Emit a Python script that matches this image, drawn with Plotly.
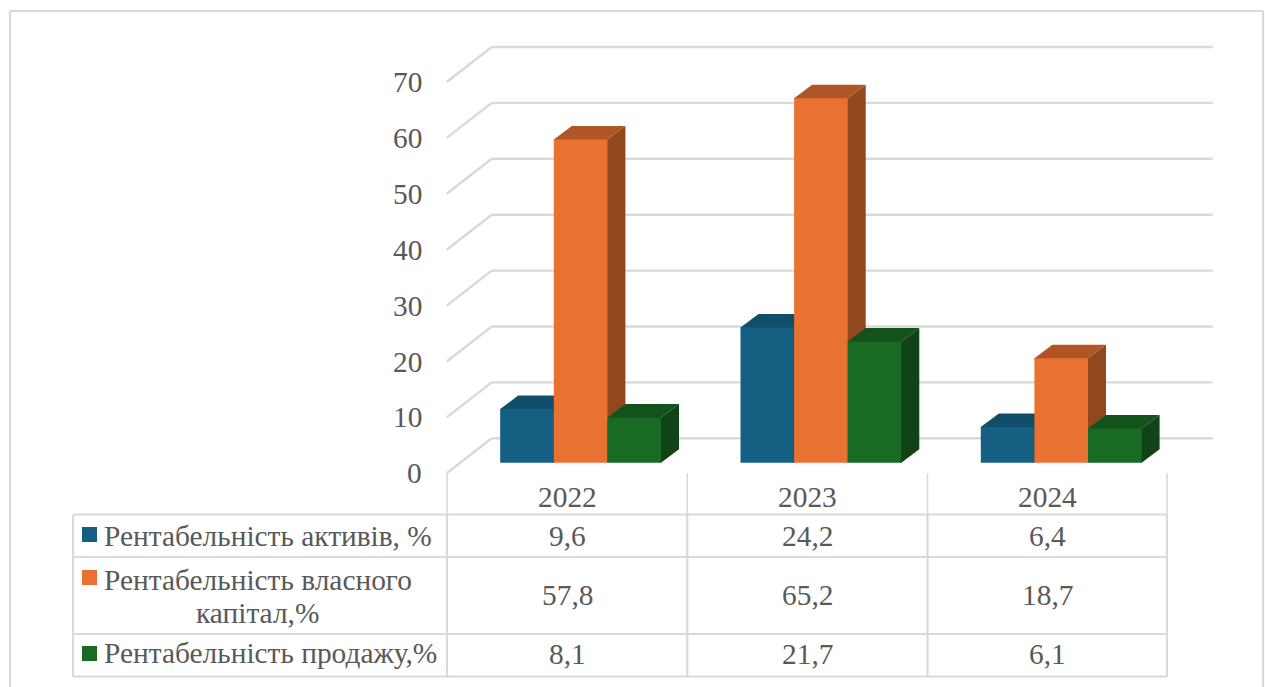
import plotly.graph_objects as go

# Chart data
years = [2022, 2023, 2024]
series_names = ["Рентабельність активів, %", "Рентабельність власного", "Рентабельність продажу,%"]
wrapped_name = "капітал,%"
assets = [9.6, 24.2, 6.4]
equity = [57.8, 65.2, 18.7]
sales = [8.1, 21.7, 6.1]
y_ticks = [0, 10, 20, 30, 40, 50, 60, 70]

# Face colours: front, top, side
blue = ("#156082", "#114E69", "#0E4158")
orange = ("#E97132", "#B05626", "#92481F")
green = ("#196B24", "#14521C", "#104317")
grid = "#D9D9D9"
ink = "#595959"
serif = "Liberation Serif"
TEXT_SIZE = 29.4

W, H = 1265, 687
X_ORIGIN, X_STEP = 580.6, 240.3   # pixel of the first category, pixels per category
Y_ZERO, Y_UNIT = 462.7, 5.59      # pixel of value 0, pixels per unit
BAR_W = 53.6 / X_STEP
DEPTH_X, DEPTH_Y = 18 / X_STEP, 13.5 / Y_UNIT
BACK_X, BACK_Y = 31.3 / X_STEP, 24.4 / Y_UNIT
FRONT_X, FRONT_Y = -13.7 / X_STEP, -10.6 / Y_UNIT
TUCK_X, TUCK_Y = 1 / X_STEP, 1 / Y_UNIT   # depth faces slip under the front face to avoid seams


def px(p):
    return p / W


def py(p):
    return 1 - p / H


def poly(points, colour):
    path = "M" + " L".join(f"{x},{y}" for x, y in points) + " Z"
    return dict(type="path", path=path, xref="x", yref="y", layer="below",
                fillcolor=colour, line=dict(width=0))


def rule(x0, y0, x1, y1, width=2.2):
    return dict(type="line", xref="paper", yref="paper", layer="below",
                x0=px(x0), y0=py(y0), x1=px(x1), y1=py(y1),
                line=dict(color=grid, width=width))


def label(text, x, y, anchor="center"):
    return dict(text=text, xref="paper", yref="paper", x=px(x), y=py(y),
                xanchor=anchor, yanchor="middle", showarrow=False,
                font=dict(family=serif, size=TEXT_SIZE, color=ink))


def decimal(v):
    return f"{v}".replace(".", ",")


fig = go.Figure()
shapes = []
annotations = []

# Walls: diagonal side lines and back gridlines
left = years[0] - 0.5
right = years[-1] + 0.5
for v in y_ticks:
    shapes.append(dict(type="line", xref="x", yref="y", layer="below",
                       x0=left + FRONT_X, y0=v + FRONT_Y, x1=left + BACK_X, y1=v + BACK_Y,
                       line=dict(color=grid, width=2.4)))
    shapes.append(dict(type="line", xref="x", yref="y", layer="below",
                       x0=left + BACK_X, y0=v + BACK_Y, x1=right + BACK_X, y1=v + BACK_Y,
                       line=dict(color=grid, width=2.4)))
    annotations.append(dict(text=str(v), xref="x", yref="y", x=left + FRONT_X, y=v + FRONT_Y,
                            xshift=-23, xanchor="right", yanchor="middle", showarrow=False,
                            font=dict(family=serif, size=TEXT_SIZE, color=ink)))

# Bars: library-drawn front faces, with top and side faces behind them
for i, (values, colours, name) in enumerate(zip((assets, equity, sales), (blue, orange, green), series_names)):
    fig.add_trace(go.Bar(x=years, y=values, name=name, marker=dict(color=colours[0], line=dict(width=0))))
    for year, v in zip(years, values):
        x0 = year + (i - 1.5) * BAR_W
        x1 = x0 + BAR_W
        shapes.append(poly([(x1 - TUCK_X, 0), (x1, 0), (x1 + DEPTH_X, DEPTH_Y), (x1 + DEPTH_X, v + DEPTH_Y),
                            (x1, v), (x1 - TUCK_X, v)], colours[2]))
        shapes.append(poly([(x0, v - TUCK_Y), (x0, v), (x0 + DEPTH_X, v + DEPTH_Y), (x1 + DEPTH_X, v + DEPTH_Y),
                            (x1, v), (x1, v - TUCK_Y)], colours[1]))

# Data table under the chart
COLS = [447, 687.3, 927.5, 1167]
ROWS = [514.5, 557, 634, 676.5]
TABLE_LEFT = 73
for y in ROWS:
    shapes.append(rule(TABLE_LEFT, y, COLS[-1], y))
shapes.append(rule(TABLE_LEFT, ROWS[0], TABLE_LEFT, ROWS[-1]))
for x in COLS:
    shapes.append(rule(x, ROWS[0], x, ROWS[-1]))
    shapes.append(rule(x, 473.3, x, ROWS[0], 1.6))

KEY_X, KEY_SIZE, TEXT_X = 82, 15, 101.5
key_tops = [527, 570, 646]
name_y = [536, 580, 653]
row_y = [535.5, 595, 654]
for name, top, ny, colours in zip(series_names, key_tops, name_y, (blue, orange, green)):
    shapes.append(dict(type="rect", xref="paper", yref="paper", x0=px(KEY_X), x1=px(KEY_X + KEY_SIZE),
                       y0=py(top), y1=py(top + KEY_SIZE), fillcolor=colours[0], line=dict(width=0), layer="above"))
    annotations.append(label(name, TEXT_X, ny, "left"))
annotations.append(label(wrapped_name, 257.5, 612.5))

for c, year in enumerate(years):
    cx = (COLS[c] + COLS[c + 1]) / 2
    annotations.append(label(str(year), cx, 497))
    for values, y in zip((assets, equity, sales), row_y):
        annotations.append(label(decimal(values[c]), cx, y))

# Outer frame, open past the lower edge of the page
shapes.append(rule(10, 11, 1263, 11))
shapes.append(rule(10, 11, 10, 687))
shapes.append(rule(1263, 11, 1263, 687))

fig.update_layout(
    width=W, height=H, autosize=False,
    margin=dict(l=0, r=0, t=0, b=0, pad=0),
    paper_bgcolor="white", plot_bgcolor="white",
    barmode="group", bargap=1 - 3 * BAR_W, bargroupgap=0,
    showlegend=False, hovermode=False,
    xaxis=dict(visible=False, range=[years[0] - X_ORIGIN / X_STEP, years[0] + (W - X_ORIGIN) / X_STEP]),
    yaxis=dict(visible=False, range=[(Y_ZERO - H) / Y_UNIT, Y_ZERO / Y_UNIT]),
    shapes=shapes, annotations=annotations,
)

fig.write_html("out.html")
